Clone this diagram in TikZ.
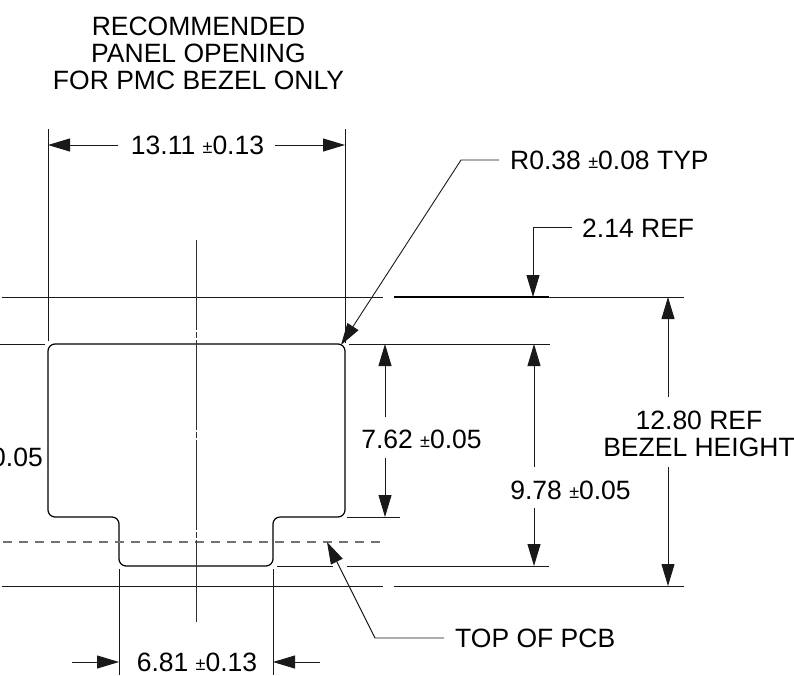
\documentclass[tikz,border=0pt]{standalone}
\usepackage{fontspec}
\setmainfont{Liberation Sans}
\usetikzlibrary{arrows.meta}
\newcommand{\plm}{\raisebox{1pt}{\fontsize{18}{18}\selectfont ±}}
\tikzset{
  x=1pt,y=-1pt,
  thinline/.style={line width=0.9pt,draw=black!90},
  outline/.style={line width=1.2pt,draw=black,rounded corners=7pt},
  heavyline/.style={line width=1.5pt,draw=black},
  dimarrow/.style={thinline,-{Triangle[length=22pt,width=13pt]}},
  hidden/.style={line width=1.3pt,draw=black!55,dash pattern=on 9pt off 7pt},
  centerline/.style={line width=1pt,draw=black!80,dash pattern=on 90pt off 2pt on 6pt off 2pt},
  label/.style={font=\fontsize{26.5}{27}\selectfont,inner sep=0pt,text=black,align=center},
}
\begin{document}
\begin{tikzpicture}
\useasboundingbox (0,0) rectangle (794,675);
% outline
\draw[outline] (48,344) -- (345,344) -- (345,517) -- (273,517) -- (273,566) -- (119,566) -- (119,517) -- (48,517) -- cycle;
% datum lines
\draw[thinline] (2,297) -- (383,297);
\draw[heavyline] (394,297) -- (549,297);
\draw[thinline] (549,297) -- (684,297);
\draw[thinline] (2,586) -- (383,586);
\draw[thinline] (394,586) -- (684,586);
\draw[hidden] (3,542) -- (384,542);
\draw[centerline] (196,240) -- (196,622);
% extension lines
\draw[thinline] (48,129) -- (48,341);
\draw[thinline] (345,129) -- (345,343);
\draw[thinline] (0,344) -- (45,344);
\draw[thinline] (349,344) -- (550,344);
\draw[thinline] (347,517) -- (400,517);
\draw[thinline] (277,566) -- (333,566);
\draw[thinline] (347,566) -- (549,566);
\draw[thinline] (119,569) -- (119,675);
\draw[thinline] (273,569) -- (273,675);
% labels
\node[label] (title) at (198.5,53) {RECOMMENDED\\PANEL OPENING\\FOR PMC BEZEL ONLY};
\node[label] (w1) at (197.5,145) {13.11 \plm0.13};
\node[label,anchor=west] (radius) at (510,160) {R0.38 \plm0.08 TYP};
\node[label,anchor=west] (ref) at (582,228) {2.14 REF};
\node[label] (h1) at (421.5,439) {7.62 \plm0.05};
\node[label] (h2) at (570.5,490) {9.78 \plm0.05};
\node[label] (h3) at (699,434) {12.80 REF\\BEZEL HEIGHT};
\node[label,anchor=east] (cut) at (43,457) {0.05};
\node[label,anchor=west] (pcb) at (455,638) {TOP OF PCB};
\node[label] (w2) at (197,662) {6.81 \plm0.13};
% dimension arrows
\draw[dimarrow] (118,145) -- (48,145);
\draw[dimarrow] (275,145) -- (345,145);
\draw[dimarrow] (385,417) -- (385,344);
\draw[dimarrow] (385,458) -- (385,517);
\draw[dimarrow] (534,467) -- (534,344);
\draw[dimarrow] (534,508) -- (534,566);
\draw[dimarrow] (668,397) -- (668,297);
\draw[dimarrow] (668,467) -- (668,586);
\draw[dimarrow] (72,662) -- (119,662);
\draw[dimarrow] (320,662) -- (273,662);
% leaders
\draw[dimarrow] (499,160) -- (461,160) -- (341,345);
\draw[dimarrow] (572,227) -- (533,227) -- (533,297);
\draw[dimarrow] (444,638) -- (375,638) -- (327,542);
\end{tikzpicture}
\end{document}
